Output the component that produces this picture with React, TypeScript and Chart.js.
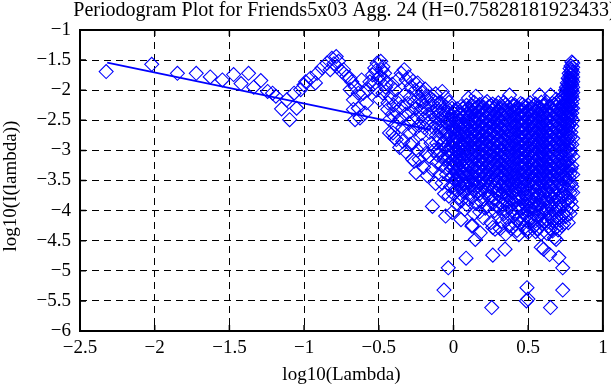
import React, { useEffect, useRef } from 'react';
import { Chart, registerables } from 'chart.js';

Chart.register(...registerables);

const TITLE = 'Periodogram Plot for Friends5x03 Agg. 24 (H=0.75828181923433)';
const X_LABEL = 'log10(Lambda)';
const Y_LABEL = 'log10(I(lambda))';

const xTicks = [-2.5, -2, -1.5, -1, -0.5, 0, 0.5, 1];
const xTickLabels = ['\u22122.5', '\u22122', '\u22121.5', '\u22121', '\u22120.5', '0', '0.5', '1'];
const yTicks = [-6, -5.5, -5, -4.5, -4, -3.5, -3, -2.5, -2, -1.5, -1];
const yTickLabels = ['\u22126', '\u22125.5', '\u22125', '\u22124.5', '\u22124', '\u22123.5', '\u22123', '\u22122.5', '\u22122', '\u22121.5', '\u22121'];

// fitted regression line (slope = 1 - 2H)
const fitX = [-2.318, -0.15];
const fitY = [-1.541, -2.661];

// low frequencies (sparse, left part)
const lowFreqPts: number[][] = [
  [-2.325, -1.69], [-2.02, -1.57], [-1.848, -1.72], [-1.722, -1.72], [-1.628, -1.78], [-1.547, -1.83],
  [-1.472, -1.74], [-1.422, -1.89], [-1.372, -1.72], [-1.337, -1.95], [-1.29, -1.84], [-1.244, -2.02],
  [-1.211, -2.05], [-1.189, -2.1], [-1.151, -2.31], [-1.116, -2.16], [-1.097, -2.49], [-1.067, -2.05],
  [-1.05, -2.3], [-1.023, -1.99], [-1.001, -1.91], [-0.99, -1.86], [-0.957, -1.8], [-0.924, -1.88],
  [-0.913, -1.72], [-0.88, -1.63], [-0.847, -1.55], [-0.825, -1.66], [-0.814, -1.47], [-0.8, -1.56],
  [-0.785, -1.44], [-0.78, -1.61], [-0.77, -1.52],
];

// middle frequencies
const midFreqPts: number[][] = [
  [-0.748, -1.69], [-0.736, -1.66], [-0.715, -1.77], [-0.693, -1.8], [-0.692, -1.99], [-0.681, -1.86],
  [-0.67, -2.16], [-0.67, -2.32], [-0.659, -1.94], [-0.659, -2.49], [-0.637, -2.05], [-0.637, -2.3],
  [-0.626, -2.46], [-0.615, -1.83], [-0.604, -2.05], [-0.593, -2.38], [-0.582, -2.21], [-0.571, -1.99],
  [-0.56, -1.86], [-0.542, -1.745], [-0.535, -1.9], [-0.527, -1.63], [-0.52, -1.68], [-0.515, -2.0],
  [-0.511, -1.55], [-0.505, -1.8], [-0.494, -1.77], [-0.494, -2.16], [-0.487, -1.52], [-0.48, -1.66],
  [-0.472, -1.61], [-0.472, -2.05], [-0.465, -1.82], [-0.461, -1.72], [-0.455, -1.95], [-0.45, -1.88],
  [-0.439, -2.21],
  [-0.35, -1.72], [-0.33, -1.66], [-0.317, -1.83], [-0.3, -1.78], [-0.284, -1.94], [-0.27, -1.85],
  [-0.255, -2.0], [-0.24, -1.88], [-0.225, -1.97], [-0.207, -2.05], [-0.19, -1.98], [-0.17, -2.1],
  [-0.141, -2.16], [-0.12, -2.06], [-0.097, -2.21], [-0.075, -2.02], [-0.05, -2.12], [-0.03, -2.2],
  [-0.41, -1.9], [-0.39, -2.0], [-0.37, -1.82],
  [-0.44, -2.32], [-0.428, -2.49], [-0.42, -2.12], [-0.41, -2.4], [-0.4, -2.25], [-0.39, -2.58],
  [-0.38, -2.36], [-0.37, -2.15], [-0.36, -2.48], [-0.35, -2.28], [-0.34, -2.62], [-0.33, -2.08],
  [-0.32, -2.4], [-0.31, -2.22], [-0.3, -2.55], [-0.295, -2.7], [-0.29, -2.12], [-0.28, -2.35],
  [-0.27, -2.5], [-0.265, -2.2], [-0.26, -2.65], [-0.25, -2.3], [-0.245, -2.45], [-0.235, -2.12],
  [-0.23, -2.58], [-0.22, -2.35], [-0.215, -2.72], [-0.21, -2.2], [-0.2, -2.48], [-0.195, -2.62],
  [-0.19, -2.3], [-0.18, -2.15], [-0.175, -2.55], [-0.17, -2.4], [-0.16, -2.7], [-0.155, -2.25],
  [-0.15, -2.5], [-0.14, -2.36], [-0.135, -2.62], [-0.13, -2.18], [-0.12, -2.45], [-0.115, -2.75],
  [-0.11, -2.3], [-0.1, -2.55], [-0.095, -2.4], [-0.09, -2.68], [-0.085, -2.2], [-0.08, -2.5],
  [-0.07, -2.33], [-0.065, -2.62], [-0.06, -2.45], [-0.05, -2.28], [-0.045, -2.72], [-0.04, -2.55],
  [-0.03, -2.38], [-0.025, -2.6], [-0.02, -2.48], [-0.01, -2.3], [-0.005, -2.65],
  [-0.428, -2.71], [-0.405, -2.71], [-0.395, -2.79], [-0.383, -2.82], [-0.36, -2.95], [-0.34, -2.85],
  [-0.32, -3.02], [-0.29, -2.9], [-0.273, -2.88], [-0.273, -3.15], [-0.262, -3.18], [-0.251, -3.37],
  [-0.24, -3.0], [-0.229, -3.15], [-0.21, -2.92], [-0.2, -3.28], [-0.185, -3.05], [-0.175, -3.42],
  [-0.163, -3.1], [-0.15, -2.88], [-0.141, -3.32], [-0.13, -3.0], [-0.141, -3.93], [-0.12, -3.55],
  [-0.11, -3.2], [-0.097, -2.99], [-0.09, -3.4], [-0.075, -3.54], [-0.07, -3.1], [-0.06, -2.85],
  [-0.053, -4.09], [-0.05, -3.3], [-0.04, -3.0], [-0.031, -3.76], [-0.025, -3.2], [-0.015, -2.92],
  [-0.009, -4.03], [-0.01, -3.45], [-0.06, -3.72], [-0.02, -3.6],
];

// left flank of the dense core
const coreLeftPts: number[][] = [
  [-0.118, -2.58], [-0.112, -2.88], [-0.106, -3.08], [-0.102, -2.35], [-0.092, -2.8], [-0.088, -3.02],
  [-0.083, -2.62], [-0.078, -3.25], [-0.072, -2.88], [-0.068, -2.42], [-0.063, -3.15], [-0.057, -2.72],
  [-0.052, -2.95], [-0.047, -3.4], [-0.043, -2.36], [-0.037, -2.82], [-0.034, -3.1], [-0.028, -2.5],
  [-0.022, -2.75], [-0.018, -3.05], [-0.013, -3.3], [-0.008, -2.42], [-0.004, -2.88], [-0.002, -3.15],
];

// dense high-frequency core, grouped by column
const coreColX = [0, 0.025, 0.05, 0.075, 0.1, 0.125, 0.15, 0.175, 0.2, 0.225, 0.25, 0.275, 0.3, 0.325, 0.35,
  0.375, 0.4, 0.425, 0.45, 0.475, 0.5, 0.525, 0.55, 0.575, 0.6, 0.625, 0.65, 0.675, 0.7, 0.725];
const coreColY: number[][] = [
  [-2.38, -2.47, -2.61, -2.7, -2.83, -2.95, -3.04, -3.18, -3.27, -3.41, -3.58, -3.72],
  [-2.31, -2.44, -2.53, -2.66, -2.79, -2.87, -3.01, -3.11, -3.24, -3.36, -3.49, -3.66, -3.9],
  [-2.27, -2.41, -2.56, -2.64, -2.75, -2.9, -2.98, -3.09, -3.2, -3.33, -3.45, -3.61, -3.84, -4.15],
  [-2.35, -2.43, -2.58, -2.69, -2.81, -2.92, -3.06, -3.14, -3.29, -3.38, -3.52, -3.7, -3.98],
  [-2.13, -2.3, -2.46, -2.55, -2.67, -2.79, -2.88, -3.02, -3.13, -3.25, -3.37, -3.5, -3.63, -3.81],
  [-2.26, -2.37, -2.5, -2.62, -2.73, -2.85, -2.97, -3.08, -3.19, -3.31, -3.44, -3.57, -3.78, -4.24],
  [-2.1, -2.29, -2.41, -2.53, -2.65, -2.76, -2.89, -3.0, -3.12, -3.24, -3.35, -3.47, -3.6, -3.88],
  [-2.24, -2.36, -2.48, -2.59, -2.71, -2.84, -2.94, -3.05, -3.17, -3.3, -3.42, -3.55, -3.72, -4.02],
  [-2.28, -2.39, -2.51, -2.63, -2.75, -2.86, -2.99, -3.1, -3.21, -3.34, -3.46, -3.59, -3.81, -4.12],
  [-2.19, -2.33, -2.45, -2.57, -2.68, -2.8, -2.91, -3.03, -3.15, -3.27, -3.39, -3.51, -3.68, -3.93],
  [-2.25, -2.38, -2.5, -2.6, -2.72, -2.83, -2.96, -3.07, -3.18, -3.3, -3.43, -3.56, -3.75, -4.2],
  [-2.3, -2.42, -2.54, -2.66, -2.77, -2.89, -3.01, -3.12, -3.25, -3.36, -3.48, -3.62, -3.8, -4.0],
  [-2.21, -2.34, -2.46, -2.58, -2.7, -2.82, -2.93, -3.05, -3.16, -3.28, -3.4, -3.53, -3.66, -3.85, -4.1],
  [-2.27, -2.4, -2.52, -2.64, -2.76, -2.87, -2.99, -3.1, -3.22, -3.34, -3.46, -3.58, -3.72, -3.9, -4.18],
  [-2.24, -2.36, -2.49, -2.61, -2.73, -2.84, -2.96, -3.08, -3.2, -3.31, -3.43, -3.56, -3.69, -3.83, -4.02, -4.39],
  [-2.08, -2.31, -2.43, -2.55, -2.67, -2.79, -2.91, -3.03, -3.14, -3.26, -3.38, -3.5, -3.63, -3.77, -3.95, -4.25],
  [-2.26, -2.38, -2.5, -2.62, -2.74, -2.86, -2.97, -3.09, -3.21, -3.33, -3.45, -3.57, -3.7, -3.86, -4.08],
  [-2.29, -2.41, -2.53, -2.65, -2.77, -2.88, -3.0, -3.12, -3.24, -3.36, -3.48, -3.6, -3.74, -3.92, -4.16, -4.33],
  [-2.22, -2.35, -2.47, -2.59, -2.71, -2.83, -2.95, -3.06, -3.18, -3.3, -3.42, -3.54, -3.67, -3.81, -3.99, -4.21],
  [-2.27, -2.39, -2.51, -2.63, -2.75, -2.87, -2.98, -3.1, -3.22, -3.34, -3.46, -3.58, -3.72, -3.88, -4.05, -4.28],
  [-2.25, -2.37, -2.49, -2.6, -2.72, -2.84, -2.96, -3.08, -3.19, -3.31, -3.44, -3.56, -3.69, -3.84, -4.0, -4.19, -4.36],
  [-2.3, -2.42, -2.54, -2.66, -2.78, -2.9, -3.02, -3.13, -3.25, -3.37, -3.49, -3.62, -3.76, -3.93, -4.12],
  [-2.23, -2.36, -2.48, -2.6, -2.72, -2.84, -2.95, -3.07, -3.19, -3.31, -3.43, -3.55, -3.68, -3.82, -3.98, -4.17, -4.35],
  [-2.08, -2.28, -2.4, -2.52, -2.64, -2.76, -2.88, -3.0, -3.11, -3.23, -3.35, -3.47, -3.6, -3.74, -3.9, -4.08, -4.27],
  [-2.26, -2.38, -2.5, -2.62, -2.74, -2.86, -2.98, -3.09, -3.21, -3.33, -3.45, -3.57, -3.71, -3.86, -4.03, -4.22],
  [-2.2, -2.33, -2.45, -2.57, -2.69, -2.81, -2.93, -3.05, -3.17, -3.29, -3.41, -3.53, -3.66, -3.8, -3.96, -4.14, -4.38],
  [-2.08, -2.29, -2.41, -2.53, -2.65, -2.77, -2.89, -3.01, -3.13, -3.25, -3.37, -3.49, -3.62, -3.77, -3.93, -4.11, -4.3],
  [-2.24, -2.36, -2.48, -2.6, -2.72, -2.84, -2.96, -3.08, -3.2, -3.32, -3.44, -3.56, -3.7, -3.85, -4.02, -4.2],
  [-2.18, -2.31, -2.43, -2.55, -2.67, -2.79, -2.91, -3.03, -3.15, -3.27, -3.39, -3.51, -3.64, -3.79, -3.95, -4.13, -4.32],
  [-2.12, -2.27, -2.39, -2.51, -2.63, -2.75, -2.87, -2.99, -3.11, -3.23, -3.35, -3.47, -3.6, -3.75, -3.91, -4.09, -4.25],
];

// second, interleaved set of core columns
const coreColX2 = [0.0125, 0.0375, 0.0625, 0.0875, 0.1125, 0.1375, 0.1625, 0.1875, 0.2125, 0.2375, 0.2625,
  0.2875, 0.3125, 0.3375, 0.3625, 0.3875, 0.4125, 0.4375, 0.4625, 0.4875, 0.5125, 0.5375, 0.5625, 0.5875,
  0.6125, 0.6375, 0.6625, 0.6875, 0.7125, 0.7375];
const coreColY2: number[][] = [
  [-2.33, -2.52, -2.65, -2.76, -2.89, -3.0, -3.12, -3.22, -3.35, -3.5, -3.65],
  [-2.4, -2.5, -2.6, -2.72, -2.85, -2.96, -3.07, -3.16, -3.3, -3.43, -3.55, -3.78],
  [-2.3, -2.45, -2.62, -2.73, -2.86, -2.95, -3.04, -3.17, -3.26, -3.4, -3.56, -3.68],
  [-2.25, -2.39, -2.52, -2.63, -2.76, -2.86, -2.97, -3.1, -3.22, -3.34, -3.44, -3.58, -3.9],
  [-2.34, -2.42, -2.58, -2.7, -2.82, -2.93, -3.04, -3.16, -3.26, -3.39, -3.53, -3.7],
  [-2.2, -2.32, -2.44, -2.56, -2.68, -2.8, -2.92, -3.03, -3.15, -3.28, -3.4, -3.52, -3.66, -4.05],
  [-2.28, -2.35, -2.47, -2.6, -2.7, -2.82, -2.94, -3.06, -3.18, -3.29, -3.41, -3.53, -3.69],
  [-2.3, -2.42, -2.54, -2.65, -2.78, -2.9, -3.0, -3.12, -3.23, -3.36, -3.49, -3.64, -3.86],
  [-2.22, -2.34, -2.45, -2.57, -2.69, -2.81, -2.93, -3.05, -3.16, -3.28, -3.41, -3.53, -3.7, -3.96],
  [-2.27, -2.4, -2.52, -2.63, -2.74, -2.86, -2.98, -3.1, -3.22, -3.33, -3.45, -3.6, -3.78],
  [-2.23, -2.32, -2.44, -2.55, -2.67, -2.79, -2.9, -3.02, -3.14, -3.26, -3.38, -3.5, -3.64, -3.88, -4.28],
  [-2.26, -2.37, -2.49, -2.6, -2.72, -2.84, -2.95, -3.07, -3.19, -3.31, -3.42, -3.55, -3.7, -3.92],
  [-2.29, -2.4, -2.52, -2.64, -2.78, -2.88, -3.0, -3.11, -3.23, -3.35, -3.47, -3.6, -3.75, -3.96, -4.3],
  [-2.2, -2.32, -2.44, -2.56, -2.68, -2.8, -2.92, -3.04, -3.15, -3.27, -3.39, -3.51, -3.64, -3.8, -4.05],
  [-2.28, -2.4, -2.53, -2.66, -2.77, -2.9, -3.01, -3.13, -3.25, -3.37, -3.49, -3.62, -3.76, -3.92, -4.14],
  [-2.22, -2.35, -2.47, -2.59, -2.71, -2.83, -2.95, -3.07, -3.18, -3.3, -3.42, -3.55, -3.68, -3.82, -4.0, -4.3],
  [-2.25, -2.34, -2.46, -2.58, -2.7, -2.82, -2.93, -3.05, -3.17, -3.29, -3.41, -3.53, -3.66, -3.8, -3.97, -4.22],
  [-2.3, -2.42, -2.55, -2.67, -2.79, -2.91, -3.02, -3.14, -3.27, -3.39, -3.51, -3.64, -3.78, -3.94, -4.12, -4.4],
  [-2.24, -2.33, -2.45, -2.57, -2.69, -2.81, -2.93, -3.04, -3.16, -3.28, -3.4, -3.52, -3.65, -3.79, -3.95, -4.14],
  [-2.28, -2.41, -2.53, -2.65, -2.77, -2.89, -3.01, -3.13, -3.25, -3.37, -3.5, -3.63, -3.77, -3.92, -4.1, -4.33],
  [-2.21, -2.31, -2.43, -2.55, -2.67, -2.79, -2.91, -3.03, -3.15, -3.27, -3.39, -3.51, -3.64, -3.79, -3.95, -4.13],
  [-2.26, -2.38, -2.51, -2.63, -2.75, -2.87, -2.99, -3.11, -3.23, -3.35, -3.47, -3.6, -3.73, -3.88, -4.05, -4.26],
  [-2.3, -2.41, -2.53, -2.65, -2.77, -2.89, -3.0, -3.12, -3.24, -3.36, -3.48, -3.61, -3.75, -3.91, -4.09, -4.3],
  [-2.2, -2.32, -2.44, -2.56, -2.68, -2.8, -2.92, -3.04, -3.16, -3.28, -3.4, -3.52, -3.65, -3.8, -3.97, -4.15, -4.38],
  [-2.25, -2.35, -2.47, -2.59, -2.71, -2.83, -2.95, -3.07, -3.19, -3.31, -3.43, -3.55, -3.68, -3.83, -3.99, -4.18],
  [-2.28, -2.4, -2.52, -2.64, -2.76, -2.88, -3.0, -3.12, -3.24, -3.36, -3.48, -3.6, -3.74, -3.89, -4.06, -4.26],
  [-2.22, -2.33, -2.45, -2.57, -2.69, -2.81, -2.93, -3.05, -3.17, -3.29, -3.41, -3.53, -3.66, -3.81, -3.98, -4.16, -4.34],
  [-2.15, -2.28, -2.4, -2.52, -2.64, -2.76, -2.88, -3.0, -3.12, -3.24, -3.36, -3.48, -3.61, -3.76, -3.92, -4.1, -4.28],
  [-2.2, -2.34, -2.46, -2.58, -2.7, -2.82, -2.94, -3.06, -3.18, -3.3, -3.42, -3.54, -3.67, -3.82, -3.98, -4.16],
  [-2.1, -2.25, -2.37, -2.49, -2.61, -2.73, -2.85, -2.97, -3.09, -3.21, -3.33, -3.45, -3.58, -3.72, -3.88, -4.05, -4.22],
];

// frequencies close to 2*pi (mirror of the lowest ones)
const edgeColX = [0.75, 0.756, 0.762, 0.768, 0.774, 0.78, 0.786, 0.792, 0.798];
const edgeColY: number[][] = [
  [-2.0, -2.12, -2.25, -2.38, -2.5, -2.64, -2.8, -2.98, -3.2, -3.45, -3.75, -4.1],
  [-1.95, -2.06, -2.17, -2.28, -2.4, -2.53, -2.68, -2.86, -3.08, -3.35, -3.65, -4.0],
  [-1.88, -1.99, -2.09, -2.19, -2.3, -2.43, -2.57, -2.73, -2.95, -3.2, -3.5, -3.82],
  [-1.8, -1.9, -2.0, -2.1, -2.21, -2.33, -2.46, -2.6, -2.8, -3.02, -3.28, -3.58, -3.9, -4.2],
  [-1.72, -1.82, -1.92, -2.02, -2.12, -2.24, -2.36, -2.5, -2.67, -2.9, -3.15, -3.45, -3.8],
  [-1.64, -1.75, -1.85, -1.94, -2.04, -2.13, -2.26, -2.4, -2.56, -2.78, -3.05, -3.38, -3.7, -4.05],
  [-1.6, -1.69, -1.8, -1.88, -1.97, -2.07, -2.18, -2.3, -2.45, -2.7, -3.0, -3.3, -3.55, -3.85],
  [-1.53, -1.66, -1.74, -1.83, -1.91, -2.0, -2.1, -2.22, -2.38, -2.6, -2.9, -3.25, -3.6, -3.95],
  [-1.55, -1.62, -1.7, -1.78, -1.86, -1.95, -2.04, -2.15, -2.3, -2.5, -2.8, -3.1, -3.4, -3.7],
];

// low-lying scattered values
const outlierPts: number[][] = [
  [-0.035, -4.95], [-0.064, -5.32], [0.084, -4.79], [0.263, -4.74], [0.345, -4.64], [0.146, -4.48],
  [0.492, -5.28], [0.498, -5.47], [0.488, -5.5], [0.256, -5.61], [0.649, -5.61], [0.731, -5.32],
  [0.731, -4.95], [0.705, -4.78], [0.643, -4.73], [0.603, -4.64], [0.687, -4.48], [0.179, -4.37],
  [0.124, -4.26], [0.278, -4.31], [0.498, -4.31], [0.587, -4.61], [0.676, -4.45],
];

const FONT = '"Liberation Serif", "Times New Roman", serif';

function buildPoints() {
  const pts: { x: number; y: number }[] = [];
  lowFreqPts.forEach(([x, y]) => pts.push({ x, y }));
  midFreqPts.forEach(([x, y]) => pts.push({ x, y }));
  coreLeftPts.forEach(([x, y]) => pts.push({ x, y }));
  coreColX.forEach((x, i) => coreColY[i].forEach((y) => pts.push({ x, y })));
  coreColX2.forEach((x, i) => coreColY2[i].forEach((y) => pts.push({ x, y })));
  edgeColX.forEach((x, i) => edgeColY[i].forEach((y) => pts.push({ x, y })));
  outlierPts.forEach(([x, y]) => pts.push({ x, y }));
  return pts;
}

const overlayPlugin = {
  id: 'overlay',
  afterDraw(chart: any) {
    const { ctx, chartArea: a } = chart;
    const xs = chart.scales.x;
    const ys = chart.scales.y;
    ctx.save();
    ctx.setLineDash([]);
    ctx.strokeStyle = '#000';
    ctx.lineWidth = 2;
    ctx.strokeRect(a.left, a.top, a.right - a.left, a.bottom - a.top);
    ctx.lineWidth = 1.5;
    ctx.beginPath();
    xTicks.forEach((v) => {
      const p = xs.getPixelForValue(v);
      ctx.moveTo(p, a.bottom);
      ctx.lineTo(p, a.bottom - 6);
      ctx.moveTo(p, a.top);
      ctx.lineTo(p, a.top + 6);
    });
    yTicks.forEach((v) => {
      const p = ys.getPixelForValue(v);
      ctx.moveTo(a.left, p);
      ctx.lineTo(a.left + 6, p);
      ctx.moveTo(a.right, p);
      ctx.lineTo(a.right - 6, p);
    });
    ctx.stroke();
    ctx.fillStyle = '#000';
    ctx.textAlign = 'center';
    ctx.textBaseline = 'middle';
    const cx = (a.left + a.right) / 2;
    ctx.font = `20px ${FONT}`;
    ctx.fillText(TITLE, cx + 3, 11);
    ctx.font = `19px ${FONT}`;
    ctx.fillText(X_LABEL, cx, 375);
    ctx.translate(11, 186);
    ctx.rotate(-Math.PI / 2);
    ctx.fillText(Y_LABEL, 0, 0);
    ctx.restore();
  },
};

export default function App() {
  const ref = useRef<HTMLCanvasElement | null>(null);
  useEffect(() => {
    document.body.style.margin = '0';
    const canvas = ref.current;
    if (!canvas) return;
    const fit = fitX.map((x, i) => ({ x, y: fitY[i] }));
    const chart = new Chart(canvas, {
      type: 'scatter',
      data: {
        datasets: [
          {
            data: fit,
            showLine: true,
            borderColor: '#0000ff',
            borderWidth: 1.8,
            pointRadius: 0,
            fill: false,
          } as any,
          {
            data: buildPoints(),
            pointStyle: 'rectRot',
            pointRadius: 7,
            pointHoverRadius: 7,
            borderColor: '#0000ff',
            backgroundColor: 'rgba(0,0,0,0)',
            borderWidth: 1.1,
          } as any,
        ],
      },
      options: {
        responsive: false,
        animation: false,
        devicePixelRatio: 1,
        events: [],
        layout: { padding: { top: 30, right: 2, left: 0, bottom: 0 } },
        plugins: {
          legend: { display: false },
          title: { display: false },
          tooltip: { enabled: false },
        },
        scales: {
          x: {
            type: 'linear',
            min: -2.5,
            max: 1,
            afterBuildTicks: (s: any) => {
              s.ticks = xTicks.map((v) => ({ value: v }));
            },
            afterFit: (s: any) => {
              s.height = 54;
              s.paddingLeft = 0;
              s.paddingRight = 0;
            },
            grid: { color: '#000', lineWidth: 1, drawTicks: false },
            border: { display: false, dash: [7, 5] },
            ticks: {
              color: '#000',
              font: { family: FONT, size: 19 },
              padding: 6,
              maxRotation: 0,
              autoSkip: false,
              callback: (_v: any, i: number) => xTickLabels[i],
            },
          },
          y: {
            type: 'linear',
            min: -6,
            max: -1,
            afterBuildTicks: (s: any) => {
              s.ticks = yTicks.map((v) => ({ value: v }));
            },
            afterFit: (s: any) => {
              s.width = 80;
              s.paddingTop = 0;
              s.paddingBottom = 0;
            },
            grid: { color: '#000', lineWidth: 1, drawTicks: false },
            border: { display: false, dash: [7, 5] },
            ticks: {
              color: '#000',
              font: { family: FONT, size: 19 },
              padding: 9,
              autoSkip: false,
              callback: (_v: any, i: number) => yTickLabels[i],
            },
          },
        },
      } as any,
      plugins: [overlayPlugin],
    });
    return () => chart.destroy();
  }, []);
  return (
    <div style={{ position: 'absolute', left: 0, top: 0, width: 611, height: 385, background: '#fff' }}>
      <canvas ref={ref} width={611} height={385} style={{ display: 'block', width: 611, height: 385 }} />
    </div>
  );
}
